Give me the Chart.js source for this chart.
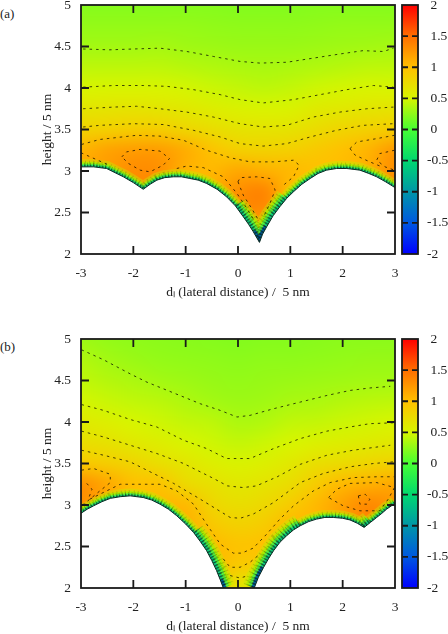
<!DOCTYPE html>
<html>
<head>
<meta charset="utf-8">
<script src="https://cdn.jsdelivr.net/npm/chart.js@4"></script>
<style>
html,body{margin:0;padding:0;background:#fff;width:448px;height:634px;overflow:hidden}
canvas{position:absolute}
.tag{position:absolute;left:0;font:13px "Liberation Serif",serif;color:#222}
</style>
</head>
<body>
<div class="tag" style="top:6px">(a)</div>
<div class="tag" style="top:339px">(b)</div>
<canvas id="plotA" width="398" height="305" style="left:0;top:0"></canvas>
<canvas id="barA" width="50" height="305" style="left:398px;top:0"></canvas>
<canvas id="plotB" width="398" height="305" style="left:0;top:334px"></canvas>
<canvas id="barB" width="50" height="305" style="left:398px;top:334px"></canvas>
<script>
const xTicks = [-3,-2,-1,0,1,2,3];
const yTicks = [2,2.5,3,3.5,4,4.5,5];
const barTicks = [-2,-1.5,-1,-0.5,0,0.5,1,1.5,2];
const barColors = ['#0000ff','#0058e0','#0096a8','#00d870','#46ff32','#d7f500','#ffc000','#ff6e00','#ff0000'];

// heat grid nodes, rows run from the top of the plot down
const gridX = [-3,-2.5,-2,-1.5,-1,-0.5,0,0.5,1,1.5,2,2.5,3];
const gridY = [5,4.75,4.5,4.25,4,3.75,3.5,3.25,3,2.75,2.5,2.25,2];

const heatA = [
  [.22,.22,.22,.22,.22,.22,.21,.21,.21,.22,.22,.22,.22],
  [.27,.27,.27,.27,.27,.26,.25,.25,.25,.26,.27,.27,.27],
  [.32,.32,.32,.33,.31,.30,.29,.29,.29,.30,.31,.32,.33],
  [.41,.41,.41,.41,.39,.37,.35,.34,.35,.37,.39,.41,.41],
  [.50,.51,.51,.51,.49,.46,.43,.41,.43,.47,.49,.51,.50],
  [.65,.66,.67,.65,.62,.58,.54,.52,.53,.60,.62,.65,.67],
  [.83,.85,.88,.88,.80,.74,.68,.67,.68,.75,.81,.85,.88],
  [1.08,1.18,1.22,1.22,1.12,.98,.86,.84,.86,.92,1.0,1.08,1.25],
  [1.15,1.2,1.32,1.3,1.08,1.05,1.15,1.1,1.05,1.0,1.02,1.1,1.32],
  [1.15,1.2,1.32,1.3,1.05,1.1,1.3,1.38,1.0,1.0,1.02,1.1,1.32],
  [1.15,1.2,1.32,1.3,1.05,1.1,1.3,1.3,1.0,1.0,1.02,1.1,1.32],
  [1.15,1.2,1.32,1.3,1.05,1.1,1.3,1.0,1.0,1.0,1.02,1.1,1.32],
  [1.15,1.2,1.32,1.3,1.05,1.1,1.3,1.0,1.0,1.0,1.02,1.1,1.32]
];
const heatB = [
  [.30,.27,.25,.24,.23,.22,.21,.22,.22,.23,.24,.24,.24],
  [.37,.32,.29,.27,.26,.25,.24,.25,.25,.26,.27,.28,.28],
  [.42,.38,.35,.32,.30,.28,.27,.28,.29,.30,.31,.32,.32],
  [.49,.45,.42,.40,.36,.32,.30,.31,.34,.35,.38,.40,.41],
  [.60,.56,.50,.47,.43,.41,.35,.37,.42,.43,.46,.48,.50],
  [.72,.69,.62,.58,.51,.47,.43,.46,.50,.55,.58,.60,.63],
  [.92,.88,.81,.72,.65,.57,.53,.56,.62,.72,.75,.80,.83],
  [1.3,1.15,1.0,.98,.76,.70,.63,.67,.74,.90,1.05,1.1,1.15],
  [1.3,1.1,1.0,1.05,1.05,.80,.73,.77,.90,1.05,1.2,1.35,1.25],
  [1.3,1.1,1.0,1.05,1.1,.93,.85,.90,1.05,1.05,1.2,1.35,1.25],
  [1.3,1.1,1.0,1.05,1.1,1.05,.97,1.0,1.05,1.05,1.2,1.35,1.25],
  [1.3,1.1,1.0,1.05,1.1,1.05,.90,.90,1.05,1.05,1.2,1.35,1.25],
  [1.3,1.1,1.0,1.05,1.1,1.05,.60,.70,1.05,1.05,1.2,1.35,1.25]
];

// lower edge of the coloured region
const surfaceA = [[-3,3.05],[-2.76,3.05],[-2.51,3.03],[-2.35,2.98],[-2.19,2.93],[-2,2.86],[-1.81,2.78],[-1.68,2.84],[-1.55,2.89],[-1.4,2.92],[-1.23,2.93],[-1.08,2.93],[-.92,2.91],[-.76,2.89],[-.6,2.85],[-.4,2.78],[-.22,2.69],[-.05,2.58],[.1,2.45],[.2,2.36],[.29,2.27],[.41,2.14],[.47,2.24],[.55,2.33],[.67,2.46],[.8,2.57],[.93,2.67],[1.06,2.75],[1.22,2.84],[1.38,2.91],[1.53,2.97],[1.69,3.01],[1.88,3.03],[2.08,3.03],[2.33,3.01],[2.5,2.97],[2.65,2.93],[2.82,2.87],[3,2.8]];
const surfaceB = [[-3,2.9],[-2.88,2.95],[-2.76,2.99],[-2.6,3.04],[-2.44,3.08],[-2.25,3.1],[-2.06,3.11],[-1.81,3.09],[-1.65,3.06],[-1.49,3.01],[-1.33,2.95],[-1.17,2.87],[-1,2.77],[-.85,2.67],[-.72,2.56],[-.6,2.45],[-.5,2.33],[-.41,2.21],[-.34,2.1],[-.28,2],[0,null],[.31,2],[.39,2.13],[.49,2.25],[.58,2.35],[.68,2.45],[.8,2.55],[.93,2.63],[1.06,2.7],[1.19,2.75],[1.35,2.8],[1.5,2.83],[1.66,2.85],[1.82,2.85],[2,2.84],[2.14,2.82],[2.28,2.78],[2.41,2.73],[2.53,2.79],[2.65,2.85],[2.75,2.9],[2.84,2.95],[3,3.02]];

// contour lines
const contoursA = [
  [[-2.96,4.47],[-2.45,4.46],[-2,4.47],[-1.49,4.48],[-.98,4.44],[-.47,4.38],[.04,4.32],[.42,4.3],[.93,4.31],[1.44,4.36],[1.95,4.41],[2.39,4.45],[2.78,4.44],[2.97,4.48]],
  [[-2.96,4.01],[-2.38,4.03],[-1.81,4.03],[-1.36,4.02],[-.85,3.98],[-.34,3.92],[.04,3.86],[.48,3.82],[1.06,3.86],[1.57,3.92],[2.08,3.98],[2.59,4.03],[2.97,4.01]],
  [[-2.96,3.75],[-2.38,3.77],[-1.94,3.78],[-1.49,3.75],[-.98,3.71],[-.47,3.65],[.04,3.57],[.48,3.53],[.93,3.55],[1.44,3.65],[1.95,3.71],[2.46,3.75],[2.97,3.77]],
  [[-2.96,3.53],[-2.64,3.55],[-2,3.57],[-1.43,3.56],[-.85,3.49],[-.34,3.41],[.04,3.33],[.48,3.3],[.93,3.33],[1.38,3.41],[1.88,3.49],[2.39,3.55],[2.97,3.57]],
  [[-2.99,3.32],[-2.64,3.38],[-1.94,3.43],[-1.49,3.42],[-1.04,3.37],[-.6,3.25],[-.15,3.16],[.23,3.11],[.68,3.11],[1.06,3.13],[1.17,3.07],[1.06,2.93],[.87,2.83]],
  [[-1.17,3.03],[-.98,3.06],[-.66,3.04],[-.28,2.93],[-.02,2.73],[.17,2.55],[.32,2.39]],
  [[-3,3.22],[-2.75,3.15],[-2.5,3.08]],
  [[2.14,3.27],[2.27,3.35],[2.65,3.39],[2.99,3.43]],
  [[2.14,3.27],[2.24,3.19],[2.52,3.11],[2.75,3.05]],
  [[2.99,3.25],[2.71,3.21],[2.65,3.13],[2.81,3.05],[2.99,3.01]],
  [[-2.22,3.17],[-2.13,3.23],[-1.87,3.26],[-1.49,3.24],[-1.31,3.15],[-1.43,3.07],[-1.68,2.99],[-1.87,3.01],[-2.09,3.09],[-2.22,3.17]],
  [[0,2.87],[.04,2.92],[.36,2.93],[.61,2.91],[.71,2.77],[.61,2.61],[.49,2.45]],
  [[0,2.87],[.1,2.71],[.26,2.55],[.39,2.41]]
];
const contoursB = [
  [[-2.99,4.87],[-2.57,4.75],[-2.06,4.58],[-1.74,4.48],[-1.23,4.35],[-.72,4.22],[-.34,4.14],[-.02,4.06],[.23,4.08],[.68,4.16],[1.19,4.24],[1.7,4.32],[2.14,4.38],[2.52,4.41],[2.91,4.43]],
  [[-2.99,4.21],[-2.57,4.14],[-2.06,4.03],[-1.55,3.94],[-1.04,3.78],[-.6,3.68],[-.22,3.56],[.23,3.56],[.68,3.68],[1.19,3.8],[1.7,3.89],[2.14,3.94],[2.52,3.98],[2.97,3.99]],
  [[-2.99,3.89],[-2.57,3.82],[-2.06,3.72],[-1.55,3.62],[-1.04,3.5],[-.5,3.33],[-.2,3.23],[.1,3.21],[.35,3.23],[.75,3.34],[1.19,3.49],[1.7,3.6],[2.2,3.66],[2.91,3.72]],
  [[-2.99,3.66],[-2.57,3.6],[-2.06,3.52],[-1.68,3.4],[-1.23,3.26],[-.72,3.07],[-.41,2.95],[-.15,2.85],[.04,2.84],[.29,2.89],[.68,3.03],[1.19,3.27],[1.63,3.38],[2.14,3.46],[2.59,3.5],[2.97,3.52]],
  [[-2.83,3.07],[-2.51,3.17],[-2.25,3.25],[-1.87,3.25],[-1.49,3.25],[-1.17,3.17],[-.85,3.01],[-.6,2.77],[-.34,2.53],[-.09,2.42],[.07,2.42],[.29,2.48],[.55,2.65],[.8,2.83],[1.06,2.99],[1.44,3.17],[1.76,3.27],[2.2,3.33],[2.65,3.34],[2.99,3.34]],
  [[-2.99,3.42],[-2.76,3.44],[-2.44,3.37],[-2.44,3.27],[-2.64,3.17],[-2.83,3.07],[-2.99,2.99]],
  [[-2.89,3.26],[-2.79,3.19],[-2.86,3.07]],
  [[1.73,3.09],[1.89,3.19],[2.14,3.26],[2.65,3.27],[2.99,3.21],[2.87,3.07],[2.71,2.93],[2.33,2.93],[2.01,2.99],[1.73,3.09]],
  [[2.3,3.11],[2.43,3.13],[2.52,3.07],[2.46,3.01],[2.33,3.01],[2.3,3.11]],
  [[-.28,2.35],[-.15,2.25],[.04,2.25],[.23,2.31],[.42,2.41]],
  [[-.15,2.15],[.04,2.12],[.2,2.15]]
];

const pts = arr => arr.map(p => ({x:p[0], y:p[1]}));
const serif = '"Liberation Serif",serif';

function colorAt(v){
  const t = Math.max(0, Math.min(barTicks.length-1.001, (v - barTicks[0]) / 0.5));
  const i = Math.floor(t), f = t - i;
  const a = hex(barColors[i]), b = hex(barColors[i+1]);
  return `rgb(${a.map((c,k) => Math.round(c + (b[k]-c)*f)).join(',')})`;
}
function hex(h){ return [1,3,5].map(i => parseInt(h.substr(i,2),16)); }

// paints the heat nodes into a small bitmap and lets the browser smooth it on the way up
const heatPlugin = {
  id:'heat',
  beforeDatasetsDraw(chart){
    const nodes = chart.data.datasets.find(d => d.heat);
    if(!nodes) return;
    const off = document.createElement('canvas');
    off.width = gridX.length; off.height = gridY.length;
    const o = off.getContext('2d');
    nodes.data.forEach(n => {
      o.fillStyle = colorAt(n.v);
      o.fillRect(gridX.indexOf(n.x), gridY.indexOf(n.y), 1, 1);
    });
    const {x, y} = chart.scales, a = chart.chartArea, c = chart.ctx;
    const x0 = x.getPixelForValue(gridX[0] - .25), x1 = x.getPixelForValue(gridX[gridX.length-1] + .25);
    const y0 = y.getPixelForValue(gridY[0] + .125), y1 = y.getPixelForValue(gridY[gridY.length-1] - .125);
    c.save();
    c.beginPath(); c.rect(a.left, a.top, a.right-a.left, a.bottom-a.top); c.clip();
    c.imageSmoothingEnabled = true; c.imageSmoothingQuality = 'high';
    c.drawImage(off, x0, y0, x1-x0, y1-y0);
    c.restore();
  }
};

const framePlugin = {
  id:'frame',
  afterDatasetsDraw(chart){
    const {x, y} = chart.scales, a = chart.chartArea, c = chart.ctx;
    c.save();
    c.strokeStyle = '#1a1a1a'; c.lineWidth = 1.8;
    c.strokeRect(a.left, a.top, a.right-a.left, a.bottom-a.top);
    c.beginPath();
    const len = chart.canvas.id.startsWith('bar') ? 6 : 8;
    y.ticks.forEach(t => {
      if(t.value === y.min || t.value === y.max) return;
      const p = y.getPixelForValue(t.value);
      c.moveTo(a.left, p); c.lineTo(a.left+len, p);
      c.moveTo(a.right, p); c.lineTo(a.right-len, p);
    });
    if(x.type === 'linear') x.ticks.forEach(t => {
      if(t.value === x.min || t.value === x.max) return;
      const p = x.getPixelForValue(t.value);
      c.moveTo(p, a.bottom); c.lineTo(p, a.bottom-len);
      c.moveTo(p, a.top); c.lineTo(p, a.top+len);
    });
    c.stroke();
    c.restore();
  }
};

function plot(id, heat, surface, contours, low, deep){
  const nodes = [];
  heat.forEach((row,j) => row.forEach((v,i) => nodes.push({x:gridX[i], y:gridY[j], v})));
  const edge = pts(surface);
  const band = (big, small, color, order) => ({
    data:edge, showLine:true, pointRadius:0, clip:0, order, borderColor:color,
    borderJoinStyle:'round',
    segment:{borderWidth: s => s.p0.parsed.y < low ? big : small}
  });
  const datasets = [
    {heat:true, data:nodes, showLine:false, pointRadius:0, order:100},
    band(24,15,'rgba(190,240,0,.4)',90),
    band(18,10,'rgba(164,240,0,.8)',89),
    band(12,6,'#58f03c',88),
    {...band(6,3,'#10d080',87), segment:{
      borderWidth: s => s.p0.parsed.y < low ? 6 : 3,
      borderColor: s => s.p0.parsed.y < deep ? '#0068a0' : undefined
    }},
    {...band(22,12,'rgba(0,0,0,.14)',86), borderDash:[1,3]},
    {...band(15,8,'rgba(0,0,0,.24)',85), borderDash:[1,2]},
    {...band(8,4,'rgba(0,0,0,.38)',84), borderDash:[1.5,1.5]},
    {data:edge, showLine:true, pointRadius:0, clip:0, order:80, borderColor:'#0a2a22', borderWidth:1, fill:'start', backgroundColor:'#fff'},
    ...contours.map(c => ({data:pts(c), showLine:true, pointRadius:0, clip:0, order:10, borderColor:'rgba(0,0,0,.72)', borderWidth:1, borderDash:[2.5,4]}))
  ];
  return new Chart(document.getElementById(id), {
    type:'scatter',
    data:{datasets},
    plugins:[heatPlugin, framePlugin],
    options:{
      responsive:false, animation:false, devicePixelRatio:1,
      layout:{padding:{left:39, right:3, top:5, bottom:0}},
      plugins:{legend:{display:false}, tooltip:{enabled:false}},
      scales:{
        x:{type:'linear', min:-3, max:3,
          afterBuildTicks:s => { s.ticks = xTicks.map(value => ({value})); },
          afterFit:s => { s.height = 51; s.paddingLeft = s.paddingRight = 0; },
          grid:{display:false}, border:{display:false},
          ticks:{color:'#222', font:{family:serif, size:13.5}, padding:3, maxRotation:0, autoSkip:false, callback:v => String(v)},
          title:{display:true, text:'dₗ (lateral distance) /  5 nm', color:'#222', font:{family:serif, size:13.5}, padding:{top:0,bottom:4}}},
        y:{type:'linear', min:2, max:5,
          afterBuildTicks:s => { s.ticks = yTicks.map(value => ({value})); },
          afterFit:s => { s.width = 42; s.paddingTop = s.paddingBottom = 0; },
          grid:{display:false}, border:{display:false},
          ticks:{color:'#222', font:{family:serif, size:13.5}, padding:2, autoSkip:false, callback:v => String(v)},
          title:{display:true, text:'height / 5 nm', color:'#222', font:{family:serif, size:13.5}, padding:0}}
      }
    }
  });
}

function colorbar(id){
  return new Chart(document.getElementById(id), {
    type:'bar',
    data:{labels:[''], datasets:[{
      data:[[barTicks[0], barTicks[barTicks.length-1]]],
      barPercentage:1, categoryPercentage:1,
      backgroundColor:ctx => {
        const ch = ctx.chart;
        if(!ch.chartArea) return barColors[4];
        const sy = ch.scales.y;
        const g = ch.ctx.createLinearGradient(0, sy.getPixelForValue(-2), 0, sy.getPixelForValue(2));
        barTicks.forEach((v,i) => g.addColorStop((v+2)/4, barColors[i]));
        return g;
      }
    }]},
    plugins:[framePlugin],
    options:{
      responsive:false, animation:false, devicePixelRatio:1,
      layout:{padding:{left:4, right:0, top:5, bottom:0}},
      plugins:{legend:{display:false}, tooltip:{enabled:false}},
      scales:{
        x:{display:true, grid:{display:false}, border:{display:false}, ticks:{display:false},
          afterFit:s => { s.height = 51; s.paddingLeft = s.paddingRight = 0; }},
        y:{type:'linear', position:'right', min:-2, max:2,
          afterBuildTicks:s => { s.ticks = barTicks.map(value => ({value})); },
          afterFit:s => { s.width = 30; s.paddingTop = s.paddingBottom = 0; },
          grid:{display:false}, border:{display:false},
          ticks:{color:'#222', font:{family:serif, size:13.5}, padding:1, crossAlign:'near', autoSkip:false, callback:v => (v >= 0 ? ' ' : '') + v}}
      }
    }
  });
}

plot('plotA', heatA, surfaceA, contoursA, 2.6, 2.3);
plot('plotB', heatB, surfaceB, contoursB, 2.75, 2.2);
colorbar('barA');
colorbar('barB');
</script>
</body>
</html>
